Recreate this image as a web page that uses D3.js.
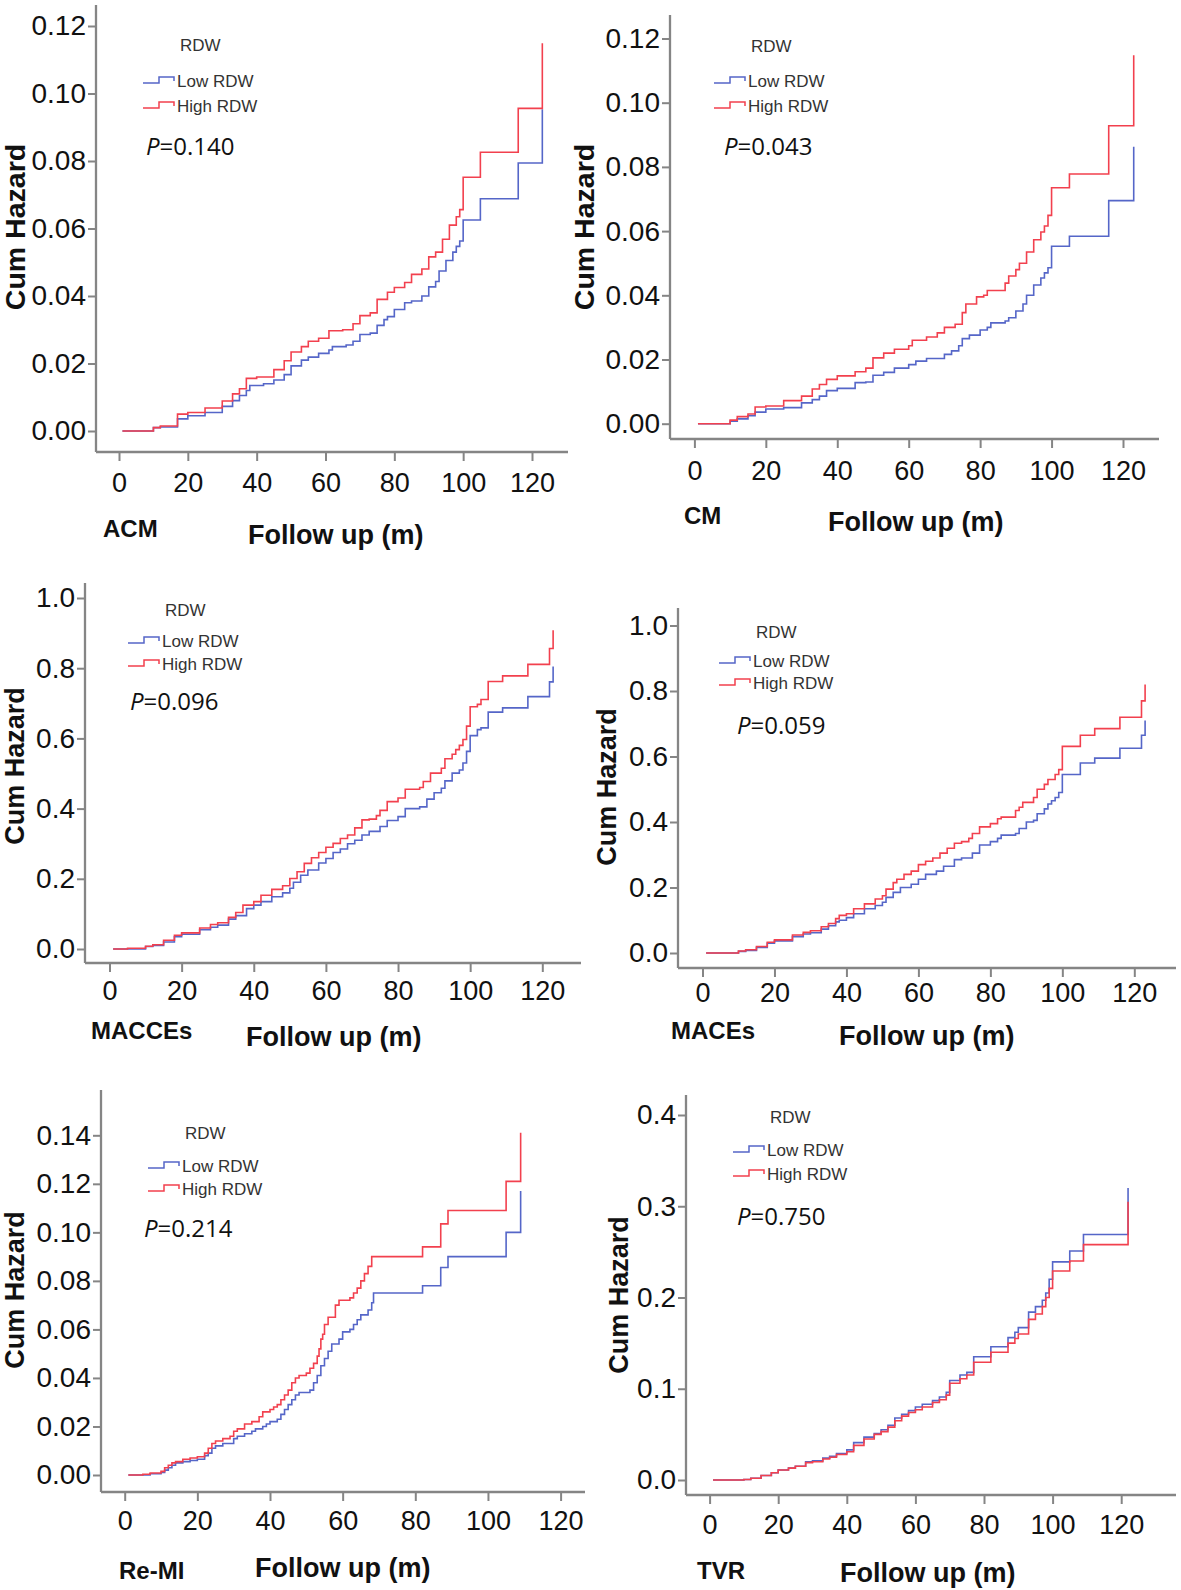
<!DOCTYPE html>
<html><head><meta charset="utf-8">
<script src="https://cdn.jsdelivr.net/npm/d3@7"></script>
<style>body{margin:0;background:#fff} svg{display:block}</style>
</head><body>
<svg id="c" width="1181" height="1590"></svg>
<script>
// ---------- DATA ----------
const panelNames = ["ACM","CM","MACCEs","MACEs","Re-MI","TVR"];
const pValues = ["0.140","0.043","0.096","0.059","0.214","0.750"];
const seriesNames = ["Low RDW","High RDW"];
const legendTitle = "RDW";
const xTitle = "Follow up (m)";
const yTitle = "Cum Hazard";
const xTickValues = [0,20,40,60,80,100,120];
const acmYTicks = [0,0.02,0.04,0.06,0.08,0.10,0.12];
const cmYTicks = [0,0.02,0.04,0.06,0.08,0.10,0.12];
const maccesYTicks = [0,0.2,0.4,0.6,0.8,1.0];
const macesYTicks = [0,0.2,0.4,0.6,0.8,1.0];
const remiYTicks = [0,0.02,0.04,0.06,0.08,0.10,0.12,0.14];
const tvrYTicks = [0,0.1,0.2,0.3,0.4];

const acmLow = [[1,0],[10,0.001],[12,0.0012],[17,0.0036],[20,0.0045],[25,0.0055],[30,0.0073],[33,0.009],[35,0.0105],[37,0.012],[38,0.0135],[42,0.014],[45,0.0151],[48,0.0167],[50,0.0193],[53,0.021],[55,0.0219],[58,0.023],[61,0.024],[62,0.025],[66,0.0255],[68,0.0266],[70,0.0286],[73,0.029],[75,0.0313],[77,0.033],[78,0.0339],[80,0.036],[83,0.038],[85,0.0385],[88,0.040],[90,0.0427],[92,0.0443],[93,0.0474],[95,0.0505],[97,0.053],[98,0.0547],[99,0.0563],[100,0.0625],[105,0.0688],[116,0.0794],[123,0.0953]];
const acmHigh = [[1,0],[10,0.001],[12,0.0015],[17,0.005],[20,0.0055],[25,0.0068],[30,0.0089],[33,0.011],[35,0.0125],[37,0.0156],[40,0.016],[45,0.0182],[48,0.0208],[50,0.0234],[53,0.025],[55,0.0266],[58,0.0275],[61,0.0297],[65,0.030],[68,0.0318],[70,0.0342],[73,0.035],[75,0.039],[78,0.0411],[80,0.0425],[83,0.044],[85,0.0464],[88,0.048],[90,0.0516],[92,0.053],[94,0.0568],[96,0.061],[98,0.0635],[99,0.0656],[100,0.0752],[105,0.0826],[116,0.0956],[123,0.1149]];
const cmLow = [[1,0],[10,0.0008],[12,0.0015],[15,0.0025],[17,0.0036],[20,0.0046],[25,0.005],[30,0.0065],[33,0.0075],[35,0.0086],[37,0.0103],[40,0.011],[45,0.0128],[48,0.013],[50,0.0151],[53,0.016],[56,0.0173],[60,0.0184],[62,0.0195],[65,0.0203],[70,0.0216],[72,0.0227],[74,0.0243],[75,0.0265],[77,0.0276],[80,0.0292],[82,0.030],[83,0.0314],[87,0.032],[88,0.033],[90,0.0351],[92,0.0373],[93,0.040],[95,0.0432],[97,0.0454],[98,0.047],[99,0.0486],[100,0.0553],[105,0.0584],[116,0.0695],[123,0.0863]];
const cmHigh = [[1,0],[10,0.0011],[12,0.0022],[15,0.003],[17,0.0052],[20,0.0055],[25,0.0072],[30,0.0086],[33,0.0108],[35,0.0122],[37,0.0138],[40,0.0149],[45,0.0162],[48,0.0173],[50,0.0205],[53,0.022],[56,0.0232],[60,0.0243],[61,0.026],[65,0.027],[68,0.0283],[70,0.030],[73,0.031],[75,0.0346],[76,0.0373],[79,0.0395],[81,0.040],[82,0.0415],[87,0.0438],[88,0.046],[90,0.048],[91,0.050],[93,0.0535],[95,0.0573],[97,0.0597],[98,0.0616],[99,0.0649],[100,0.0735],[105,0.0778],[116,0.0928],[123,0.1148]];
const maccesLow = [[1,0],[10,0.007],[12,0.01],[15,0.02],[18,0.035],[20,0.042],[25,0.055],[28,0.062],[30,0.068],[33,0.085],[35,0.095],[38,0.115],[40,0.125],[42,0.135],[45,0.149],[48,0.16],[50,0.173],[51,0.19],[53,0.21],[55,0.225],[58,0.245],[60,0.258],[62,0.275],[64,0.285],[66,0.30],[68,0.31],[70,0.325],[72,0.335],[75,0.349],[77,0.366],[80,0.377],[82,0.40],[86,0.405],[88,0.427],[90,0.445],[92,0.458],[93,0.479],[95,0.501],[97,0.51],[98,0.53],[99,0.563],[100,0.608],[102,0.625],[103,0.63],[105,0.675],[109,0.687],[116,0.719],[122,0.761],[123,0.805]];
const maccesHigh = [[1,0],[5,0.002],[10,0.008],[12,0.012],[15,0.025],[18,0.039],[20,0.046],[25,0.060],[28,0.070],[30,0.075],[33,0.090],[35,0.104],[37,0.125],[40,0.135],[42,0.153],[45,0.170],[48,0.180],[50,0.201],[52,0.22],[54,0.244],[56,0.26],[58,0.275],[60,0.29],[62,0.301],[64,0.315],[66,0.325],[68,0.345],[70,0.368],[72,0.37],[74,0.38],[75,0.395],[77,0.42],[80,0.43],[82,0.455],[86,0.46],[87,0.477],[89,0.501],[92,0.515],[93,0.542],[95,0.555],[96,0.568],[97,0.58],[98,0.597],[99,0.635],[100,0.69],[102,0.697],[103,0.711],[105,0.762],[109,0.778],[116,0.811],[122,0.856],[123,0.908]];
const macesLow = [[1,0],[10,0.005],[12,0.008],[15,0.017],[18,0.03],[20,0.037],[25,0.05],[28,0.058],[30,0.062],[33,0.073],[35,0.083],[37,0.095],[38,0.1],[40,0.108],[42,0.12],[45,0.135],[48,0.145],[50,0.155],[51,0.17],[53,0.185],[55,0.2],[58,0.21],[60,0.225],[62,0.24],[65,0.25],[67,0.265],[70,0.285],[72,0.29],[75,0.305],[77,0.33],[80,0.34],[82,0.35],[83,0.36],[87,0.365],[88,0.38],[90,0.40],[92,0.405],[93,0.425],[95,0.44],[96,0.455],[97,0.465],[98,0.475],[99,0.49],[100,0.545],[105,0.58],[109,0.595],[116,0.625],[122,0.665],[123,0.71]];
const macesHigh = [[1,0],[10,0.006],[12,0.01],[15,0.02],[18,0.033],[20,0.04],[25,0.055],[28,0.063],[30,0.068],[33,0.08],[35,0.09],[37,0.105],[38,0.115],[40,0.12],[42,0.135],[45,0.15],[48,0.165],[50,0.175],[51,0.195],[53,0.215],[54,0.225],[56,0.24],[58,0.25],[60,0.27],[62,0.28],[64,0.29],[66,0.305],[68,0.32],[70,0.335],[72,0.34],[74,0.35],[75,0.365],[77,0.385],[80,0.395],[82,0.41],[83,0.415],[87,0.435],[88,0.445],[89,0.46],[92,0.475],[93,0.50],[95,0.515],[96,0.53],[98,0.545],[99,0.56],[100,0.631],[105,0.665],[109,0.685],[116,0.72],[122,0.77],[123,0.82]];
const remiLow = [[1,0],[7,0.0005],[10,0.001],[11,0.002],[12,0.003],[13,0.004],[14,0.005],[16,0.0055],[18,0.006],[20,0.0065],[22,0.008],[23,0.009],[24,0.011],[25,0.012],[27,0.013],[30,0.015],[31,0.016],[33,0.017],[35,0.018],[36,0.019],[38,0.020],[39,0.021],[40,0.022],[42,0.023],[43,0.025],[44,0.027],[45,0.029],[46,0.031],[47,0.033],[48,0.034],[51,0.035],[52,0.038],[53,0.041],[54,0.045],[55,0.048],[56,0.051],[57,0.054],[59,0.056],[60,0.059],[62,0.060],[63,0.062],[64,0.064],[65,0.066],[67,0.068],[68,0.071],[68.5,0.075],[82,0.078],[87,0.0855],[89,0.090],[105,0.100],[109,0.117]];
const remiHigh = [[1,0],[5,0.0003],[7,0.0008],[10,0.0015],[11,0.003],[12,0.004],[13,0.005],[14,0.0055],[16,0.0065],[18,0.007],[20,0.0075],[22,0.009],[23,0.011],[24,0.013],[25,0.014],[27,0.015],[29,0.016],[30,0.018],[31,0.019],[33,0.021],[35,0.022],[37,0.024],[38,0.026],[40,0.027],[41,0.028],[42,0.029],[43,0.031],[44,0.033],[45,0.035],[46,0.038],[47,0.040],[48,0.041],[50,0.042],[51,0.044],[52,0.046],[53,0.049],[53.5,0.052],[54,0.056],[54.5,0.058],[55,0.062],[56,0.065],[58,0.070],[59,0.072],[62,0.073],[63,0.075],[64,0.077],[65,0.080],[66,0.083],[67,0.086],[68,0.090],[82,0.094],[87,0.1035],[89,0.109],[105,0.121],[109,0.141]];
const tvrLow = [[1,0],[10,0.0005],[12,0.002],[15,0.005],[18,0.008],[20,0.011],[23,0.013],[25,0.015],[28,0.02],[30,0.021],[33,0.024],[35,0.026],[37,0.029],[40,0.033],[42,0.041],[45,0.047],[48,0.051],[50,0.055],[52,0.06],[54,0.068],[56,0.072],[58,0.076],[60,0.080],[62,0.083],[65,0.087],[67,0.091],[69,0.096],[70,0.109],[73,0.115],[75,0.118],[77,0.135],[82,0.146],[87,0.156],[89,0.162],[90,0.167],[93,0.184],[95,0.19],[97,0.197],[98,0.205],[99,0.22],[100,0.239],[105,0.251],[109,0.269],[122,0.32]];
const tvrHigh = [[1,0],[10,0.0005],[12,0.002],[15,0.005],[18,0.008],[20,0.011],[23,0.013],[25,0.015],[28,0.019],[30,0.02],[33,0.023],[35,0.025],[37,0.028],[40,0.031],[42,0.038],[45,0.045],[48,0.05],[50,0.053],[52,0.058],[54,0.065],[56,0.07],[58,0.074],[60,0.077],[62,0.08],[65,0.085],[67,0.088],[69,0.093],[70,0.106],[73,0.111],[75,0.115],[77,0.129],[82,0.14],[87,0.15],[89,0.155],[90,0.16],[93,0.176],[95,0.182],[97,0.19],[98,0.2],[99,0.21],[100,0.229],[105,0.24],[109,0.258],[122,0.305]];

const lowSeries = [acmLow, cmLow, maccesLow, macesLow, remiLow, tvrLow];
const highSeries = [acmHigh, cmHigh, maccesHigh, macesHigh, remiHigh, tvrHigh];
const yTickSets = [acmYTicks, cmYTicks, maccesYTicks, macesYTicks, remiYTicks, tvrYTicks];
const yFormats = [".2f",".2f",".1f",".1f",".2f",".1f"];

// ---------- LAYOUT ----------
const layouts = [
  {axX:96, top:5, axY:452, right:568, yR:[431,26], xR:[119,532], cum:[15,227,28.5], name:[103,528], xt:[248,535], leg:[143,45,81,106], p:[146,145], xl:483},
  {axX:670, top:15, axY:439, right:1159, yR:[423.7,38.5], xR:[694.4,1123], cum:[584,227,28.5], name:[684,515], xt:[828,522], leg:[714,46.6,81,106], p:[724,145], xl:471},
  {axX:85, top:583, axY:963, right:581, yR:[949,598], xR:[109.5,542.3], cum:[15,766,27], name:[91,1030], xt:[246,1037], leg:[128,610,641,664], p:[130,700], xl:991},
  {axX:678, top:608, axY:968, right:1176, yR:[953,625.5], xR:[702.5,1134.3], cum:[607,787,27], name:[671,1030], xt:[839,1036], leg:[719,632,661,683], p:[737,724], xl:993},
  {axX:101, top:1090, axY:1492, right:585, yR:[1475,1135.3], xR:[124.7,560.6], cum:[15,1290,27], name:[119,1570], xt:[255,1568], leg:[148,1133,1166,1189], p:[144,1227], xl:1521},
  {axX:686, top:1095, axY:1495, right:1176, yR:[1480,1115], xR:[709.6,1121.2], cum:[619,1295,27], name:[697,1570], xt:[840,1573], leg:[733,1117,1150,1174], p:[737,1215], xl:1525}
];
const colors = ["#5566c8", "#f2404e"];
const axisColor = "#858585";
const tickFont = "'Liberation Sans', Arial, sans-serif";

const svg = d3.select("#c");

layouts.forEach((L, i) => {
  const g = svg.append("g");
  const yt = yTickSets[i];
  const ys = d3.scaleLinear().domain([0, d3.max(yt)]).range(L.yR);
  const xs = d3.scaleLinear().domain([0, 120]).range(L.xR);

  // axis lines
  g.append("line").attr("x1", L.axX).attr("x2", L.axX).attr("y1", L.top).attr("y2", L.axY)
    .attr("stroke", axisColor).attr("stroke-width", 2.3);
  g.append("line").attr("x1", L.axX).attr("x2", L.right).attr("y1", L.axY).attr("y2", L.axY)
    .attr("stroke", axisColor).attr("stroke-width", 2.3);

  const ya = g.append("g").attr("transform", `translate(${L.axX},0)`)
    .call(d3.axisLeft(ys).tickValues(yt).tickFormat(d3.format(yFormats[i])).tickSize(8).tickPadding(2));
  ya.select(".domain").remove();
  ya.selectAll("line").attr("stroke", axisColor).attr("stroke-width", 2);
  ya.selectAll("text").attr("font-family", tickFont).attr("font-size", 28).attr("fill", "#111");

  const xa = g.append("g").attr("transform", `translate(0,${L.axY})`)
    .call(d3.axisBottom(xs).tickValues(xTickValues).tickSize(9));
  xa.select(".domain").remove();
  xa.selectAll("line").attr("stroke", axisColor).attr("stroke-width", 2);
  xa.selectAll("text").attr("font-family", tickFont).attr("font-size", 27).attr("fill", "#111")
    .attr("y", L.xl - L.axY).attr("dy", "0.35em");

  // curves
  const line = d3.line().x(d => xs(d[0])).y(d => ys(d[1])).curve(d3.curveStepAfter);
  [lowSeries[i], highSeries[i]].forEach((s, k) => {
    g.append("path").datum(s).attr("d", line).attr("fill", "none")
      .attr("stroke", colors[k]).attr("stroke-width", 1.6).attr("stroke-linejoin", "miter");
  });

  // titles
  g.append("text").attr("transform", `translate(${L.cum[0]},${L.cum[1]}) rotate(-90)`)
    .attr("text-anchor", "middle").attr("dominant-baseline", "central")
    .attr("font-family", tickFont).attr("font-weight", "bold").attr("font-size", L.cum[2]).attr("fill", "#111")
    .text(yTitle);
  g.append("text").attr("x", L.name[0]).attr("y", L.name[1]).attr("dominant-baseline", "central")
    .attr("font-family", tickFont).attr("font-weight", "bold").attr("font-size", 24).attr("fill", "#111")
    .text(panelNames[i]);
  g.append("text").attr("x", L.xt[0]).attr("y", L.xt[1]).attr("dominant-baseline", "central")
    .attr("font-family", tickFont).attr("font-weight", "bold").attr("font-size", 27).attr("fill", "#111")
    .text(xTitle);

  // legend
  const [lx, ty, r1, r2] = L.leg;
  g.append("text").attr("x", lx + 37).attr("y", ty).attr("dominant-baseline", "central")
    .attr("font-family", tickFont).attr("font-size", 17).attr("fill", "#333").text(legendTitle);
  [r1, r2].forEach((ry, k) => {
    g.append("path").attr("d", `M${lx},${ry + 2}H${lx + 16}V${ry - 4}H${lx + 31}V${ry}`)
      .attr("fill", "none").attr("stroke", colors[k]).attr("stroke-width", 1.5);
    g.append("text").attr("x", lx + 34).attr("y", ry).attr("dominant-baseline", "central")
      .attr("font-family", tickFont).attr("font-size", 17).attr("fill", "#333").text(seriesNames[k]);
  });
  const pt = g.append("text").attr("x", L.p[0]).attr("y", L.p[1]).attr("dominant-baseline", "central")
    .attr("font-family", "'Open Sans', 'Noto Sans', sans-serif").attr("font-size", 24).attr("fill", "#111");
  pt.append("tspan").attr("font-style", "italic").text("P");
  pt.append("tspan").text("=" + pValues[i]);
});
</script>
</body></html>
